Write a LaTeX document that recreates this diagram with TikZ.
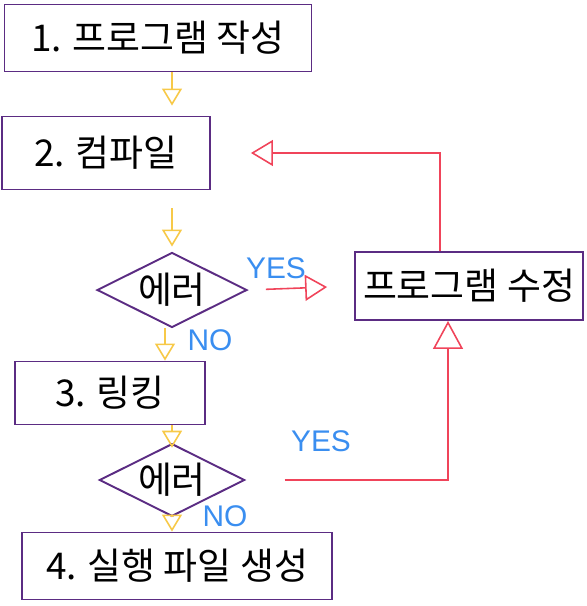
\documentclass[tikz,border=0pt]{standalone}
\usepackage{fontspec}
\setmainfont{Noto Sans CJK KR}
\newfontfamily\latinfont{Liberation Sans}
\usetikzlibrary{arrows.meta,shapes.geometric,positioning}
\definecolor{boxline}{HTML}{5B2C83}
\definecolor{flowy}{HTML}{F7C948}
\definecolor{flowr}{HTML}{F0445A}
\definecolor{labelb}{HTML}{3A8EF0}
\begin{document}
\begin{tikzpicture}[x=0.02cm,y=-0.02cm,font=\fontsize{21}{24}\selectfont,
  step box/.style={draw=boxline,line width=1.1pt,inner sep=0pt},
  check/.style={draw=boxline,line width=1.1pt,diamond,aspect=2,inner sep=1pt,minimum width=3cm,minimum height=1.5cm},
  go/.style={flowy,line width=0.9pt,-{Triangle[open,width=4mm,length=3.4mm]}},
  back/.style={flowr,line width=0.9pt,-{Triangle[open,width=5.2mm,length=4.4mm]}},
  answer/.style={labelb,font=\latinfont\fontsize{17}{20}\selectfont}]
\useasboundingbox (0,0) rectangle (586,606);
\node[step box,minimum width=6.14cm,minimum height=1.34cm] (write) at (158,38) {1. 프로그램 작성};
\node[step box,minimum width=4.16cm,minimum height=1.46cm] (compile) at (106,153) {2. 컴파일};
\node[check] (err1) at (172,290) {에러};
\node[step box,minimum width=4.56cm,minimum height=1.36cm] (fix) at (469,286) {프로그램 수정};
\node[step box,minimum width=3.8cm,minimum height=1.26cm] (link) at (110,393) {3. 링킹};
\node[check,minimum width=2.6cm,minimum height=1.3cm] (err2) at (172,480) {에러};
\node[step box,minimum width=6.2cm,minimum height=1.34cm] (exe) at (177,566) {4. 실행 파일 생성};
% main flow
\draw[go,shorten >=2mm] (write.south -| err1) -- (compile.north -| err1);
\draw[go,shorten <=3.6mm,shorten >=1mm] (compile.south -| err1) -- (err1.north);
\draw[go] ([xshift=-0.14cm]err1.south) -- ([xshift=-0.14cm]link.north -| err1);
\draw[go,shorten >=-1mm] (link.south -| err2) -- (err2.north);
\draw[go] (err2.south) -- (exe.north -| err2);
% error branches
\draw[back,shorten <=0.36cm,shorten >=0.54cm] (err1.east) -- (fix.west);
\draw[back,shorten >=0.8cm] ([xshift=-0.58cm]fix.north) |- (compile.east);
\draw[back,-{Triangle[open,width=6mm,length=5.6mm]},shorten <=0.78cm] (err2.east) -| ([xshift=-0.42cm]fix.south);
\node[answer] (yes1) at (276,268) {YES};
\node[answer] (no1) at (210,340) {NO};
\node[answer] (yes2) at (321,441) {YES};
\node[answer] (no2) at (225,516) {NO};
\end{tikzpicture}
\end{document}
